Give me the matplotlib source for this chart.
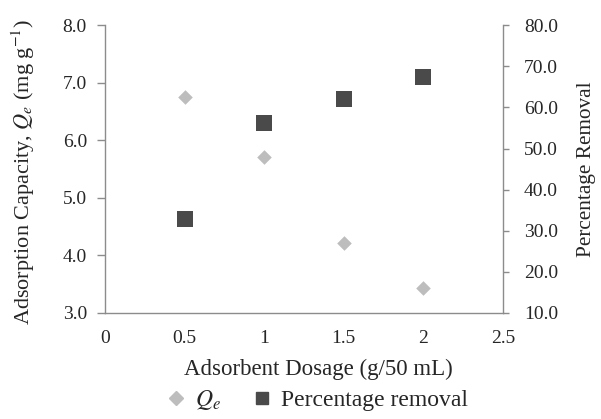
import matplotlib
matplotlib.use("Agg")
import matplotlib.pyplot as plt
from matplotlib.lines import Line2D

plt.rcParams['font.family'] = ['Liberation Serif', 'DejaVu Serif']
plt.rcParams['mathtext.fontset'] = 'stix'

dosage = [0.5, 1.0, 1.5, 2.0]
qe = [6.75, 5.71, 4.22, 3.43]
removal = [32.8, 56.2, 62.0, 67.4]

x_ticks = [0, 0.5, 1, 1.5, 2, 2.5]
x_ticklabels = ['0', '0.5', '1', '1.5', '2', '2.5']
left_ticks = [3.0, 4.0, 5.0, 6.0, 7.0, 8.0]
right_ticks = [10.0, 20.0, 30.0, 40.0, 50.0, 60.0, 70.0, 80.0]

spine_col = '#8c8c8c'
text_col = '#262626'
qe_col = '#bdbdbd'
rem_col = '#4a4a4a'

fig = plt.figure(figsize=(6.01, 4.19), dpi=100)
ax = fig.add_axes([0.1747, 0.253, 0.6623, 0.687])
ax2 = ax.twinx()

ax.scatter(dosage, qe, marker='D', s=55, color=qe_col, zorder=3, linewidths=0)
ax2.scatter(dosage, removal, marker='s', s=140, color=rem_col, zorder=3, linewidths=0)

ax.set_xlim(0, 2.5)
ax.set_ylim(3.0, 8.0)
ax2.set_ylim(10.0, 80.0)

ax.set_xticks(x_ticks)
ax.set_xticklabels(x_ticklabels)
ax.set_xticks([0, 2.5], minor=True)
ax.set_yticks(left_ticks)
ax.set_yticklabels([f'{v:.1f}' for v in left_ticks])
ax2.set_yticks(right_ticks)
ax2.set_yticklabels([f'{v:.1f}' for v in right_ticks])

for a in (ax, ax2):
    a.spines['top'].set_visible(False)
    for s in ('left', 'right', 'bottom'):
        a.spines[s].set_color(spine_col)
        a.spines[s].set_linewidth(1.0)
    a.tick_params(colors=text_col, labelsize=14, width=1.0)
    a.tick_params(axis='both', which='both', color=spine_col)
ax.spines['right'].set_visible(False)
ax2.spines['left'].set_visible(False)
ax2.spines['bottom'].set_visible(False)
ax.tick_params(axis='y', length=6, pad=7)
ax2.tick_params(axis='y', length=4, pad=11)
ax.tick_params(axis='x', which='major', length=0, pad=12)
ax.tick_params(axis='x', which='minor', length=4)

ax.set_xlabel('Adsorbent Dosage (g/50 mL)', fontsize=16.5, color=text_col)
ax.xaxis.set_label_coords(0.535, -0.16)
ax.set_ylabel(r'Adsorption Capacity, $Q_e$ (mg g$^{-1}$)', fontsize=16,
              color=text_col)
ax.yaxis.set_label_coords(-0.17, 0.49)
ax2.set_ylabel('Percentage Removal', fontsize=15.3, color=text_col)
ax2.yaxis.set_label_coords(1.186, 0.5)

handles = [
    Line2D([], [], marker='D', linestyle='none', color=qe_col, markersize=7.5),
    Line2D([], [], marker='s', linestyle='none', color=rem_col, markersize=9),
]
fig.legend(handles, [r'$Q_e$', 'Percentage removal'], loc='center',
           bbox_to_anchor=(0.524, 0.045), ncol=2, frameon=False, fontsize=17,
           handlelength=1.2, handletextpad=0.2, columnspacing=1.15,
           labelcolor=text_col)

fig.savefig('out.png', dpi=100)
